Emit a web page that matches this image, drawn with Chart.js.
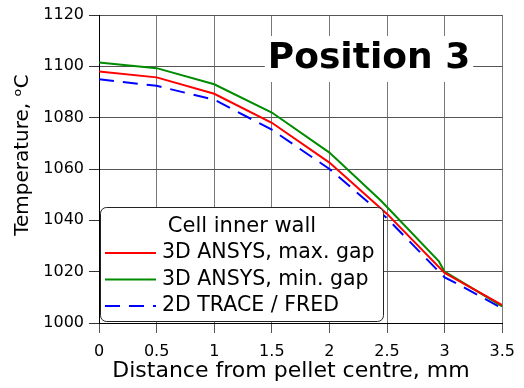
<!DOCTYPE html>
<html>
<head>
<meta charset="utf-8">
<script src="https://cdn.jsdelivr.net/npm/chart.js@4"></script>
<style>
  html, body { margin:0; padding:0; background:#fff; }
  #wrap { width:524px; height:388px; }
</style>
</head>
<body>
<div id="wrap"><canvas id="chart" width="524" height="388"></canvas></div>
<script>
// ================= DATA =================
const xTicks = [0, 0.5, 1, 1.5, 2, 2.5, 3, 3.5];
const yTicks = [1000, 1020, 1040, 1060, 1080, 1100, 1120];

const maxGapX = [0, 0.5, 1, 1.5, 2, 2.5, 3, 3.5];
const maxGapY = [1098, 1095.7, 1089.3, 1078, 1062.5, 1042.5, 1019.5, 1007];

const minGapX = [0, 0.5, 1, 1.5, 2, 2.45, 2.95, 3, 3.5];
const minGapY = [1101.5, 1099.3, 1093, 1082, 1066.4, 1047.5, 1024, 1020, 1006.5];

const traceX = [0, 0.5, 1, 1.5, 2, 2.5, 2.95, 3, 3.1, 3.5];
const traceY = [1095, 1092.4, 1087, 1075.3, 1060, 1040.8, 1020, 1017.8, 1015.5, 1005.7];

const legendTitle = "Cell inner wall";
const chartTitle = "Position 3";
const xTitle = "Distance from pellet centre, mm";
const yTitle = "Temperature, ᵒC";

const FONT = "'DejaVu Sans', Verdana, sans-serif";

function pts(xs, ys){
    return xs.map((x, i) => ({x: x, y: ys[i]}));
}

// ================= PLUGINS =================
const textBits = {
    id: "textBits",
    afterDatasetsDraw(chart){
        const ctx = chart.ctx;
        ctx.save();

        // big title with white backing
        ctx.font = "bold 36px " + FONT;
        const w = ctx.measureText(chartTitle).width;
        const cx = 369, cy = 59;
        ctx.fillStyle = "#fff";
        ctx.fillRect(cx - w/2 - 3, cy - 23, w + 6, 46);
        ctx.fillStyle = "#000";
        ctx.textAlign = "center";
        ctx.textBaseline = "middle";
        ctx.fillText(chartTitle, cx, cy);

        // axis titles
        ctx.font = "22px " + FONT;
        ctx.fillText(xTitle, 291, 371);

        ctx.translate(23, 155);
        ctx.rotate(-Math.PI / 2);
        ctx.font = "20px " + FONT;
        ctx.fillText(yTitle, 0, 0);
        ctx.restore();
    }
};

const legendBox = {
    id: "legendBox",
    afterDatasetsDraw(chart){
        const ctx = chart.ctx;
        const x0 = 100.5, y0 = 207.5, x1 = 383.5, y1 = 321.5, r = 6;
        ctx.save();
        ctx.beginPath();
        ctx.moveTo(x0 + r, y0);
        ctx.arcTo(x1, y0, x1, y1, r);
        ctx.arcTo(x1, y1, x0, y1, r);
        ctx.arcTo(x0, y1, x0, y0, r);
        ctx.arcTo(x0, y0, x1, y0, r);
        ctx.closePath();
        ctx.fillStyle = "#fff";
        ctx.fill();
        ctx.strokeStyle = "#222";
        ctx.lineWidth = 1;
        ctx.stroke();

        ctx.fillStyle = "#000";
        ctx.font = "21px " + FONT;
        ctx.textAlign = "center";
        ctx.textBaseline = "middle";
        ctx.fillText(legendTitle, (x0 + x1) / 2, 227);

        ctx.font = "20.5px " + FONT;
        ctx.textAlign = "left";
        chart.data.datasets.forEach((ds, i) => {
            const y = 253 + i * 26.5;
            ctx.beginPath();
            ctx.strokeStyle = ds.borderColor;
            ctx.lineWidth = ds.borderWidth;
            ctx.setLineDash(ds.borderDash || []);
            ctx.moveTo(105, y);
            ctx.lineTo(156, y);
            ctx.stroke();
            ctx.setLineDash([]);
            ctx.fillText(ds.label, 162, y);
        });
        ctx.restore();
    }
};

// ================= CHART =================
const ctx = document.getElementById("chart").getContext("2d");

new Chart(ctx, {
    type: "line",
    data: {
        datasets: [
            {
                label: "3D ANSYS, max. gap",
                data: pts(maxGapX, maxGapY),
                borderColor: "#ff0000",
                borderWidth: 2,
                pointRadius: 0,
                tension: 0
            },
            {
                label: "3D ANSYS, min. gap",
                data: pts(minGapX, minGapY),
                borderColor: "#008c00",
                borderWidth: 2,
                pointRadius: 0,
                tension: 0
            },
            {
                label: "2D TRACE / FRED",
                data: pts(traceX, traceY),
                borderColor: "#0000ff",
                borderWidth: 2,
                borderDash: [15, 9],
                pointRadius: 0,
                tension: 0
            }
        ]
    },
    options: {
        responsive: false,
        animation: false,
        layout: { padding: { top: 15, right: 15, left: 0, bottom: 0 } },
        plugins: {
            legend: { display: false },
            tooltip: { enabled: false }
        },
        scales: {
            x: {
                type: "linear",
                min: 0,
                max: 3.5,
                afterBuildTicks: (axis) => { axis.ticks = xTicks.map(v => ({value: v})); },
                afterFit: (axis) => { axis.height = 65; },
                grid: { color: "#777", lineWidth: 1, tickLength: 10, tickColor: "#555" },
                border: { color: "#000", width: 1 },
                ticks: {
                    color: "#000",
                    padding: 9,
                    maxRotation: 0,
                    font: { family: FONT, size: 16 },
                    callback: (v) => String(v)
                }
            },
            y: {
                min: 1000,
                max: 1120,
                afterBuildTicks: (axis) => { axis.ticks = yTicks.map(v => ({value: v})); },
                afterFit: (axis) => { axis.width = 99; },
                grid: { color: "#555", lineWidth: 1, tickLength: 10, tickColor: "#333" },
                border: { color: "#000", width: 1 },
                ticks: {
                    color: "#000",
                    padding: 5,
                    font: { family: FONT, size: 16 },
                    callback: (v) => String(v)
                }
            }
        }
    },
    plugins: [textBits, legendBox]
});
</script>
</body>
</html>
